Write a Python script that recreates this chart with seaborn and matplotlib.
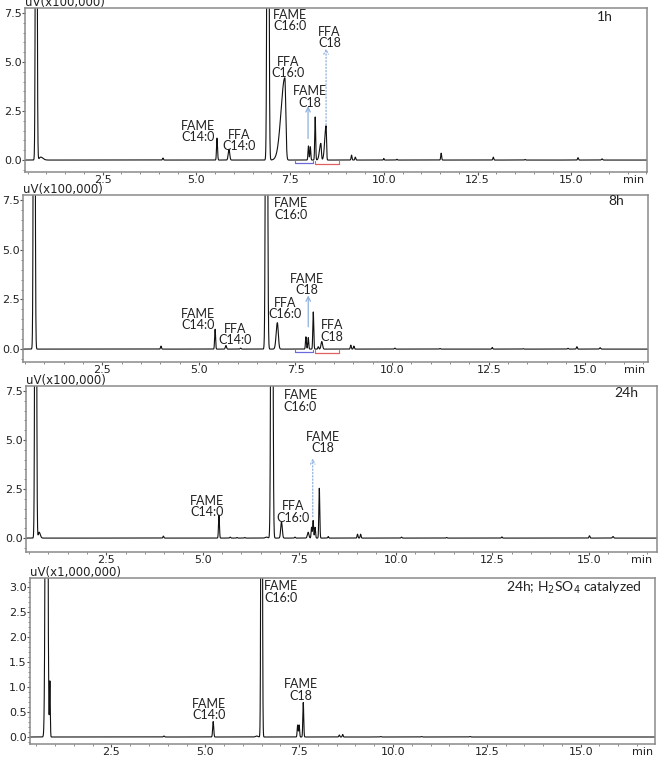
import numpy as np
import pandas as pd
import matplotlib
matplotlib.use("Agg")
import matplotlib.pyplot as plt
from matplotlib.ticker import MultipleLocator
import seaborn as sns

# peak tables: retention time (min), height, left / right width (min)
rt_1h = [0.73, 0.85, 4.11, 5.55, 5.87, 6.91, 7.36, 7.99, 8.04, 8.17, 8.32, 8.46,
         9.14, 9.24, 10.0, 10.35, 11.53, 12.92, 13.77, 15.18, 15.82]
ht_1h = [40, 0.15, 0.1, 1.12, 0.55, 40, 4.2, 0.72, 0.68, 2.2, 0.85, 1.75,
         0.25, 0.15, 0.08, 0.04, 0.35, 0.15, 0.03, 0.12, 0.06]
wl_1h = [0.017, 0.04, 0.012, 0.012, 0.02, 0.02, 0.1, 0.012, 0.012, 0.012, 0.035, 0.035,
         0.012, 0.012, 0.01, 0.01, 0.012, 0.012, 0.012, 0.012, 0.015]
wr_1h = [0.017, 0.06, 0.012, 0.014, 0.02, 0.02, 0.025, 0.012, 0.012, 0.012, 0.015, 0.012,
         0.012, 0.012, 0.01, 0.01, 0.012, 0.012, 0.012, 0.012, 0.015]

rt_8h = [0.74, 4.02, 5.42, 5.70, 6.08, 6.75, 7.03, 7.77, 7.83, 7.96, 8.09, 8.18,
         8.93, 9.01, 10.07, 11.24, 12.59, 13.39, 14.55, 14.78, 15.38]
ht_8h = [40, 0.15, 1.0, 0.18, 0.05, 40, 1.33, 0.62, 0.58, 1.87, 0.12, 0.38,
         0.2, 0.15, 0.05, 0.03, 0.08, 0.02, 0.04, 0.12, 0.07]
wl_8h = [0.017, 0.012, 0.012, 0.015, 0.012, 0.02, 0.03, 0.012, 0.012, 0.012, 0.012, 0.02,
         0.012, 0.012, 0.012, 0.012, 0.012, 0.012, 0.012, 0.012, 0.015]
wr_8h = [0.017, 0.012, 0.012, 0.015, 0.012, 0.02, 0.025, 0.012, 0.012, 0.012, 0.012, 0.02,
         0.012, 0.012, 0.012, 0.012, 0.012, 0.012, 0.012, 0.012, 0.015]

rt_24h = [0.67, 0.76, 3.98, 5.42, 5.71, 5.89, 6.09, 6.65, 6.79, 7.04, 7.39, 7.73,
          7.82, 7.86, 7.91, 8.02, 8.25, 9.01, 9.09, 10.15, 11.32, 12.75, 15.02, 15.63]
ht_24h = [40, 0.3, 0.1, 1.17, 0.05, 0.03, 0.03, 0.05, 40, 0.83, 0.05, 0.3,
          0.55, 0.9, 0.55, 2.54, 0.08, 0.2, 0.2, 0.05, 0.03, 0.06, 0.12, 0.08]
wl_24h = [0.017, 0.02, 0.012, 0.012, 0.012, 0.012, 0.012, 0.03, 0.02, 0.02, 0.012, 0.02,
          0.012, 0.012, 0.012, 0.012, 0.012, 0.012, 0.012, 0.012, 0.012, 0.012, 0.012, 0.015]
wr_24h = [0.017, 0.03, 0.012, 0.012, 0.012, 0.012, 0.012, 0.03, 0.02, 0.02, 0.012, 0.02,
          0.012, 0.012, 0.012, 0.012, 0.012, 0.012, 0.012, 0.012, 0.012, 0.012, 0.012, 0.015]

rt_acid = [0.77, 0.86, 3.9, 5.21, 6.37, 6.5, 7.46, 7.5, 7.61, 8.57, 8.66, 9.67, 10.76, 12.05]
ht_acid = [15, 1.1, 0.02, 0.31, 0.02, 15, 0.24, 0.24, 0.69, 0.04, 0.05, 0.01, 0.01, 0.01]
wl_acid = [0.025, 0.01, 0.015, 0.014, 0.03, 0.015, 0.012, 0.012, 0.012, 0.012, 0.012, 0.015, 0.015, 0.015]
wr_acid = [0.025, 0.01, 0.015, 0.014, 0.03, 0.015, 0.012, 0.012, 0.012, 0.012, 0.012, 0.015, 0.015, 0.015]


def trace(t, rt, ht, wl, wr):
    y = np.zeros_like(t)
    for r, h, a, b in zip(rt, ht, wl, wr):
        w = np.where(t < r, a, b)
        y += h * np.exp(-0.5 * ((t - r) / w) ** 2)
    return y


sns.set_style("ticks")
plt.rcParams["font.family"] = ["DejaVu Sans"]
lab_font = ["Lato", "DejaVu Sans"]
W, H = 661, 760
fig = plt.figure(figsize=(W / 100, H / 100), dpi=100)

# pixel boxes (left, right, top, bottom), x and y limits, "min" label x
panels = [
    dict(box=(25, 647, 8, 172), xlim=(0.43, 17.02), ylim=(-0.61, 7.76), minx=16.65,
         unit="uV(x100,000)", peaks=(rt_1h, ht_1h, wl_1h, wr_1h)),
    dict(box=(23, 648, 195, 362), xlim=(0.45, 16.62), ylim=(-0.65, 7.76), minx=16.28,
         unit="uV(x100,000)", peaks=(rt_8h, ht_8h, wl_8h, wr_8h)),
    dict(box=(26, 657, 386, 552), xlim=(0.42, 16.77), ylim=(-0.71, 7.76), minx=16.38,
         unit="uV(x100,000)", peaks=(rt_24h, ht_24h, wl_24h, wr_24h)),
    dict(box=(30, 655, 578, 744), xlim=(0.33, 16.98), ylim=(-0.14, 3.18), minx=16.66,
         unit="uV(x1,000,000)", peaks=(rt_acid, ht_acid, wl_acid, wr_acid)),
]

axes = []
for p in panels:
    l, r, t, b = p["box"]
    ax = fig.add_axes([l / W, 1 - b / H, (r - l) / W, (b - t) / H])
    tt = np.linspace(p["xlim"][0], p["xlim"][1], 14000)
    df = pd.DataFrame({"t": tt, "signal": trace(tt, *p["peaks"])})
    sns.lineplot(data=df, x="t", y="signal", ax=ax, color="#111111", linewidth=0.8,
                 estimator=None, sort=False)
    ax.set_xlim(*p["xlim"])
    ax.set_ylim(*p["ylim"])
    ax.set_xlabel("")
    ax.set_ylabel("")
    ax.xaxis.set_major_locator(MultipleLocator(2.5))
    ax.xaxis.set_minor_locator(MultipleLocator(0.5))
    if p["ylim"][1] > 5:
        ax.yaxis.set_major_locator(MultipleLocator(2.5))
        ax.yaxis.set_minor_locator(MultipleLocator(0.5))
    else:
        ax.yaxis.set_major_locator(MultipleLocator(0.5))
        ax.yaxis.set_minor_locator(MultipleLocator(0.1))
    ax.xaxis.set_major_formatter(lambda v, pos: "" if v < 1 else f"{v:.1f}")
    ax.yaxis.set_major_formatter(lambda v, pos: f"{v:.1f}")
    ax.tick_params(which="major", length=2, width=0.8, pad=0.5, labelsize=8,
                   colors="#555555", labelcolor="#222222")
    ax.tick_params(which="minor", length=1.3, width=0.6, colors="#777777")
    for s in ax.spines.values():
        s.set_color("#8a8a8a")
        s.set_linewidth(1.1)
    ax.annotate(p["unit"], xy=(0, 1), xycoords="axes fraction", xytext=(0, 1.2),
                textcoords="offset points", ha="left", va="baseline",
                fontsize=8.5, color="#222222")
    ax.annotate("min", xy=(p["minx"], 0), xycoords=ax.get_xaxis_transform(),
                xytext=(0, -2.5), textcoords="offset points", ha="center", va="top",
                fontsize=8, color="#222222")
    axes.append(ax)


def label(ax, s, x, y, ha="center", va="bottom", size=9):
    ax.text(x, y, s, ha=ha, va=va, fontsize=size, family=lab_font, color="#222222",
            linespacing=0.95, multialignment="center")


def arrow(ax, x, y0, y1, dotted=False):
    ax.annotate("", xy=(x, y1), xytext=(x, y0),
                arrowprops=dict(arrowstyle="->", color="#8fb0dd", lw=0.9,
                                linestyle=":" if dotted else "-", mutation_scale=8,
                                shrinkA=0, shrinkB=0))


def integ(ax, x0, x1, y, color):
    ax.plot([x0, x1], [y, y], color=color, lw=0.9)
    ax.plot([x0, x0], [y, y + 0.12], color=color, lw=0.8)
    ax.plot([x1, x1], [y, y + 0.12], color=color, lw=0.8)


a1, a2, a3, a4 = axes

label(a1, "FAME\nC14:0", 5.05, 0.85)
label(a1, "FFA\nC14:0", 6.14, 0.4)
label(a1, "FAME\nC16:0", 7.05, 7.72, ha="left", va="top")
label(a1, "FFA\nC16:0", 7.45, 4.13)
label(a1, "FAME\nC18", 8.03, 2.62)
label(a1, "FFA\nC18", 8.55, 5.66)
label(a1, "1h", 15.9, 7.3, va="center", size=10)
arrow(a1, 7.98, 1.1, 2.75)
arrow(a1, 8.46, 1.8, 5.7, dotted=True)
integ(a1, 7.63, 8.11, -0.15, "#6a6ad8")
integ(a1, 8.17, 8.80, -0.18, "#e06060")

label(a2, "FAME\nC14:0", 4.97, 0.9)
label(a2, "FFA\nC14:0", 5.94, 0.15)
label(a2, "FAME\nC16:0", 6.93, 7.65, ha="left", va="top")
label(a2, "FFA\nC16:0", 7.23, 1.45)
label(a2, "FAME\nC18", 7.79, 2.65)
label(a2, "FFA\nC18", 8.44, 0.33)
label(a2, "8h", 15.81, 7.45, va="center", size=10)
arrow(a2, 7.83, 1.12, 2.7)
integ(a2, 7.49, 7.95, -0.15, "#6a6ad8")
integ(a2, 8.00, 8.63, -0.18, "#e06060")

label(a3, "FAME\nC14:0", 5.12, 1.0)
label(a3, "FAME\nC16:0", 7.09, 7.6, ha="left", va="top")
label(a3, "FFA\nC16:0", 7.33, 0.72)
label(a3, "FAME\nC18", 8.11, 4.28)
label(a3, "24h", 15.97, 7.4, va="center", size=10)
arrow(a3, 7.85, 1.09, 4.07, dotted=True)

label(a4, "FAME\nC14:0", 5.09, 0.32)
label(a4, "FAME\nC16:0", 6.57, 3.14, ha="left", va="top")
label(a4, "FAME\nC18", 7.55, 0.7)
label(a4, "24h; H$_2$SO$_4$ catalyzed", 16.62, 2.99, ha="right", va="center", size=10)

fig.savefig("out.png", dpi=100)
